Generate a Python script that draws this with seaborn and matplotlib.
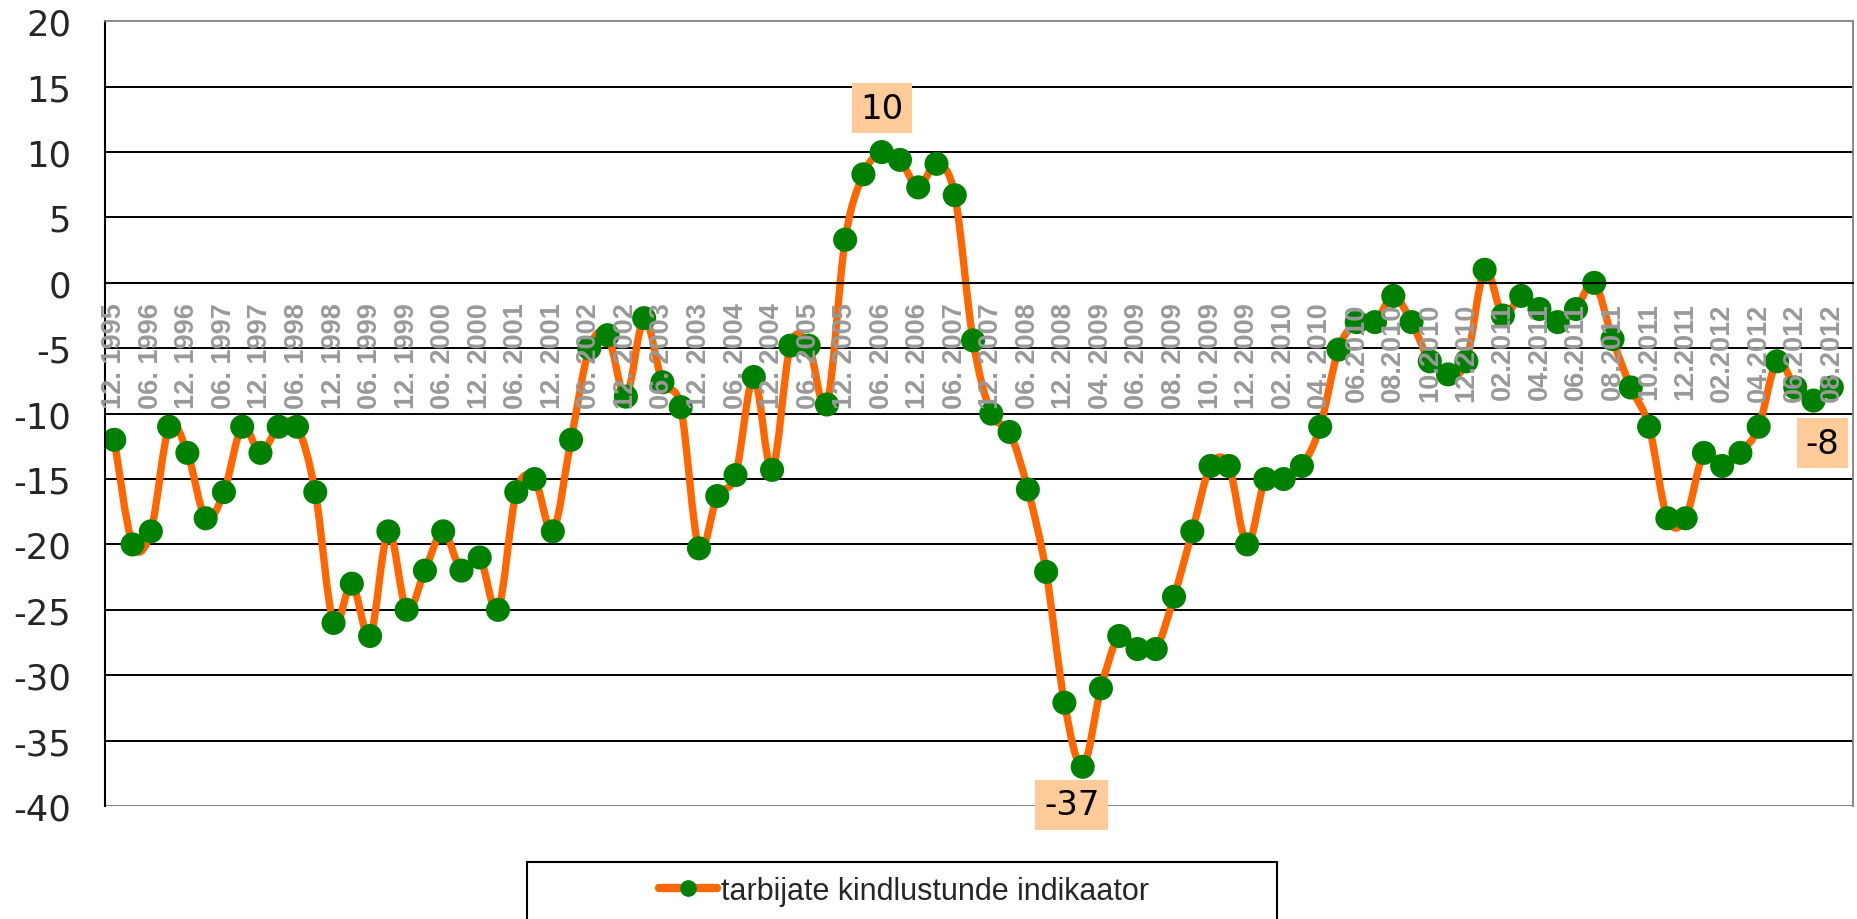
import numpy as np
import matplotlib
matplotlib.use("Agg")
import matplotlib.pyplot as plt
from matplotlib.path import Path
from matplotlib.patches import PathPatch, Rectangle
from matplotlib.lines import Line2D
import seaborn as sns

# category labels (every second period is labelled on the axis)
tick_labels = [
    "12. 1995", "06. 1996", "12. 1996", "06. 1997", "12. 1997", "06. 1998",
    "12. 1998", "06. 1999", "12. 1999", "06. 2000", "12. 2000", "06. 2001",
    "12. 2001", "06. 2002", "12. 2002", "06. 2003", "12. 2003", "06. 2004",
    "12. 2004", "06. 2005", "12. 2005", "06. 2006", "12. 2006", "06. 2007",
    "12. 2007", "06. 2008", "12. 2008", "04. 2009", "06. 2009", "08. 2009",
    "10. 2009", "12. 2009", "02. 2010", "04. 2010", "06.2010", "08.2010",
    "10.2010", "12.2010", "02.2011", "04.2011", "06.2011", "08.2011",
    "10.2011", "12.2011", "02.2012", "04.2012", "06.2012", "08.2012",
]

values = [
    -12, -20, -19, -11, -13, -18, -16, -11, -13, -11,
    -11, -16, -26, -23, -27, -19, -25, -22, -19, -22,
    -21, -25, -16, -15, -19, -12, -5, -4, -8.7, -2.7,
    -7.6, -9.5, -20.3, -16.3, -14.7, -7.2, -14.3, -4.8, -4.8, -9.3,
    3.3, 8.3, 10, 9.4, 7.3, 9.1, 6.7, -4.4, -10, -11.4,
    -15.8, -22.1, -32.1, -37, -31, -27, -28, -28, -24, -19,
    -14, -14, -20, -15, -15, -14, -11, -5.1, -3, -3,
    -1, -3, -6, -7, -6, 1, -2.5, -1, -2, -3,
    -2, 0, -4.3, -8, -11, -18, -18, -13, -14, -13,
    -11, -6, -8, -9, -8,
]

series_name = "tarbijate kindlustunde indikaator"

# labelled points: index -> (text, offset in pixels)
callouts = {42: ("10", (0, 44)), 53: ("-37", (-11, -38)), 94: ("-8", (-9, -56))}

ORANGE = "#FF6600"
GREEN = "#008000"
GREY_TXT = "#999999"
PEACH = "#FFCC99"

sns.set_style("white")
plt.rcParams["font.family"] = ["DejaVu Sans"]
plt.rcParams["axes.unicode_minus"] = False

fig = plt.figure(figsize=(18.58, 9.2), dpi=100)
ax = fig.add_axes([0.0566, 0.1228, 0.9407, 0.853])
ax.set_axisbelow(False)

x = np.arange(len(values))
y = np.array(values, dtype=float)

# smoothed line (Excel style), cubic Bezier segments through the points
pts = np.column_stack([x, y])
padded = np.vstack([pts[0], pts, pts[-1]])
verts = [pts[0]]
codes = [Path.MOVETO]
for k in range(len(pts) - 1):
    p0, p1, p2, p3 = padded[k], padded[k + 1], padded[k + 2], padded[k + 3]
    verts += [p1 + (p2 - p0) / 6, p2 - (p3 - p1) / 6, p2]
    codes += [Path.CURVE4] * 3
ax.add_patch(PathPatch(Path(verts, codes), fill=False, edgecolor=ORANGE,
                       lw=5.3, capstyle="round", joinstyle="round", zorder=2))

sns.scatterplot(x=x, y=y, ax=ax, color=GREEN, s=300, edgecolor="none",
                zorder=2.2, legend=False)

# horizontal gridlines
for v in range(-40, 20, 5):
    if v == 0:
        continue
    ax.axhline(v, color="#808080" if v == -40 else "black", lw=1.4, zorder=1)

ax.set_xlim(-0.5, 95.16)
ax.set_ylim(-40, 20)

for side in ["top", "right"]:
    ax.spines[side].set_color("#808080")
    ax.spines[side].set_linewidth(1.3)
ax.spines["left"].set_color("black")
ax.spines["left"].set_linewidth(1.5)
ax.spines["bottom"].set_color("black")
ax.spines["bottom"].set_linewidth(1.5)
ax.spines["bottom"].set_position(("data", 0))

ax.set_xticks(range(0, len(values), 2))
ax.set_xticklabels(tick_labels, rotation=90, fontsize=19.5,
                   fontweight="bold", color=GREY_TXT,
                   family=["Liberation Sans", "DejaVu Sans"])
ax.set_xticks(np.arange(-0.5, len(values), 1), minor=True)
ax.tick_params(axis="x", which="major", length=0, pad=14)
ax.tick_params(axis="x", which="minor", direction="out", length=5.8,
               width=1.2, color="black")

ax.set_yticks(range(-40, 25, 5))
ax.set_yticklabels([str(v) for v in range(-40, 25, 5)])
ax.tick_params(axis="y", direction="out", length=9.4, width=1.2,
               color="black", pad=15, labelsize=25.5)
ax.set_xlabel("")
ax.set_ylabel("")

for i, (txt, off) in callouts.items():
    ax.annotate(txt, xy=(x[i], y[i]), xytext=off, textcoords="offset pixels",
                ha="center", va="center", fontsize=24.5, color="black",
                bbox=dict(boxstyle="square,pad=0.25", fc=PEACH, ec="none"),
                zorder=3)

# legend box, cut by the bottom edge like the original
fig.add_artist(Rectangle((527 / 1858, -0.01), 750 / 1858, 1 - 863 / 920 + 0.01,
                         transform=fig.transFigure, fill=False,
                         edgecolor="black", lw=1.5, clip_on=False))
handle = Line2D([], [], color=ORANGE, lw=6, marker="o", ms=11,
                mfc=GREEN, mec=GREEN)
fig.legend([handle], [series_name], loc="center",
           bbox_to_anchor=(904 / 1858, 1 - 892 / 920), frameon=False,
           handlelength=1.9, handletextpad=0.15,
           prop={"family": ["Liberation Sans"], "size": 22})

fig.savefig("out.png", dpi=100)
